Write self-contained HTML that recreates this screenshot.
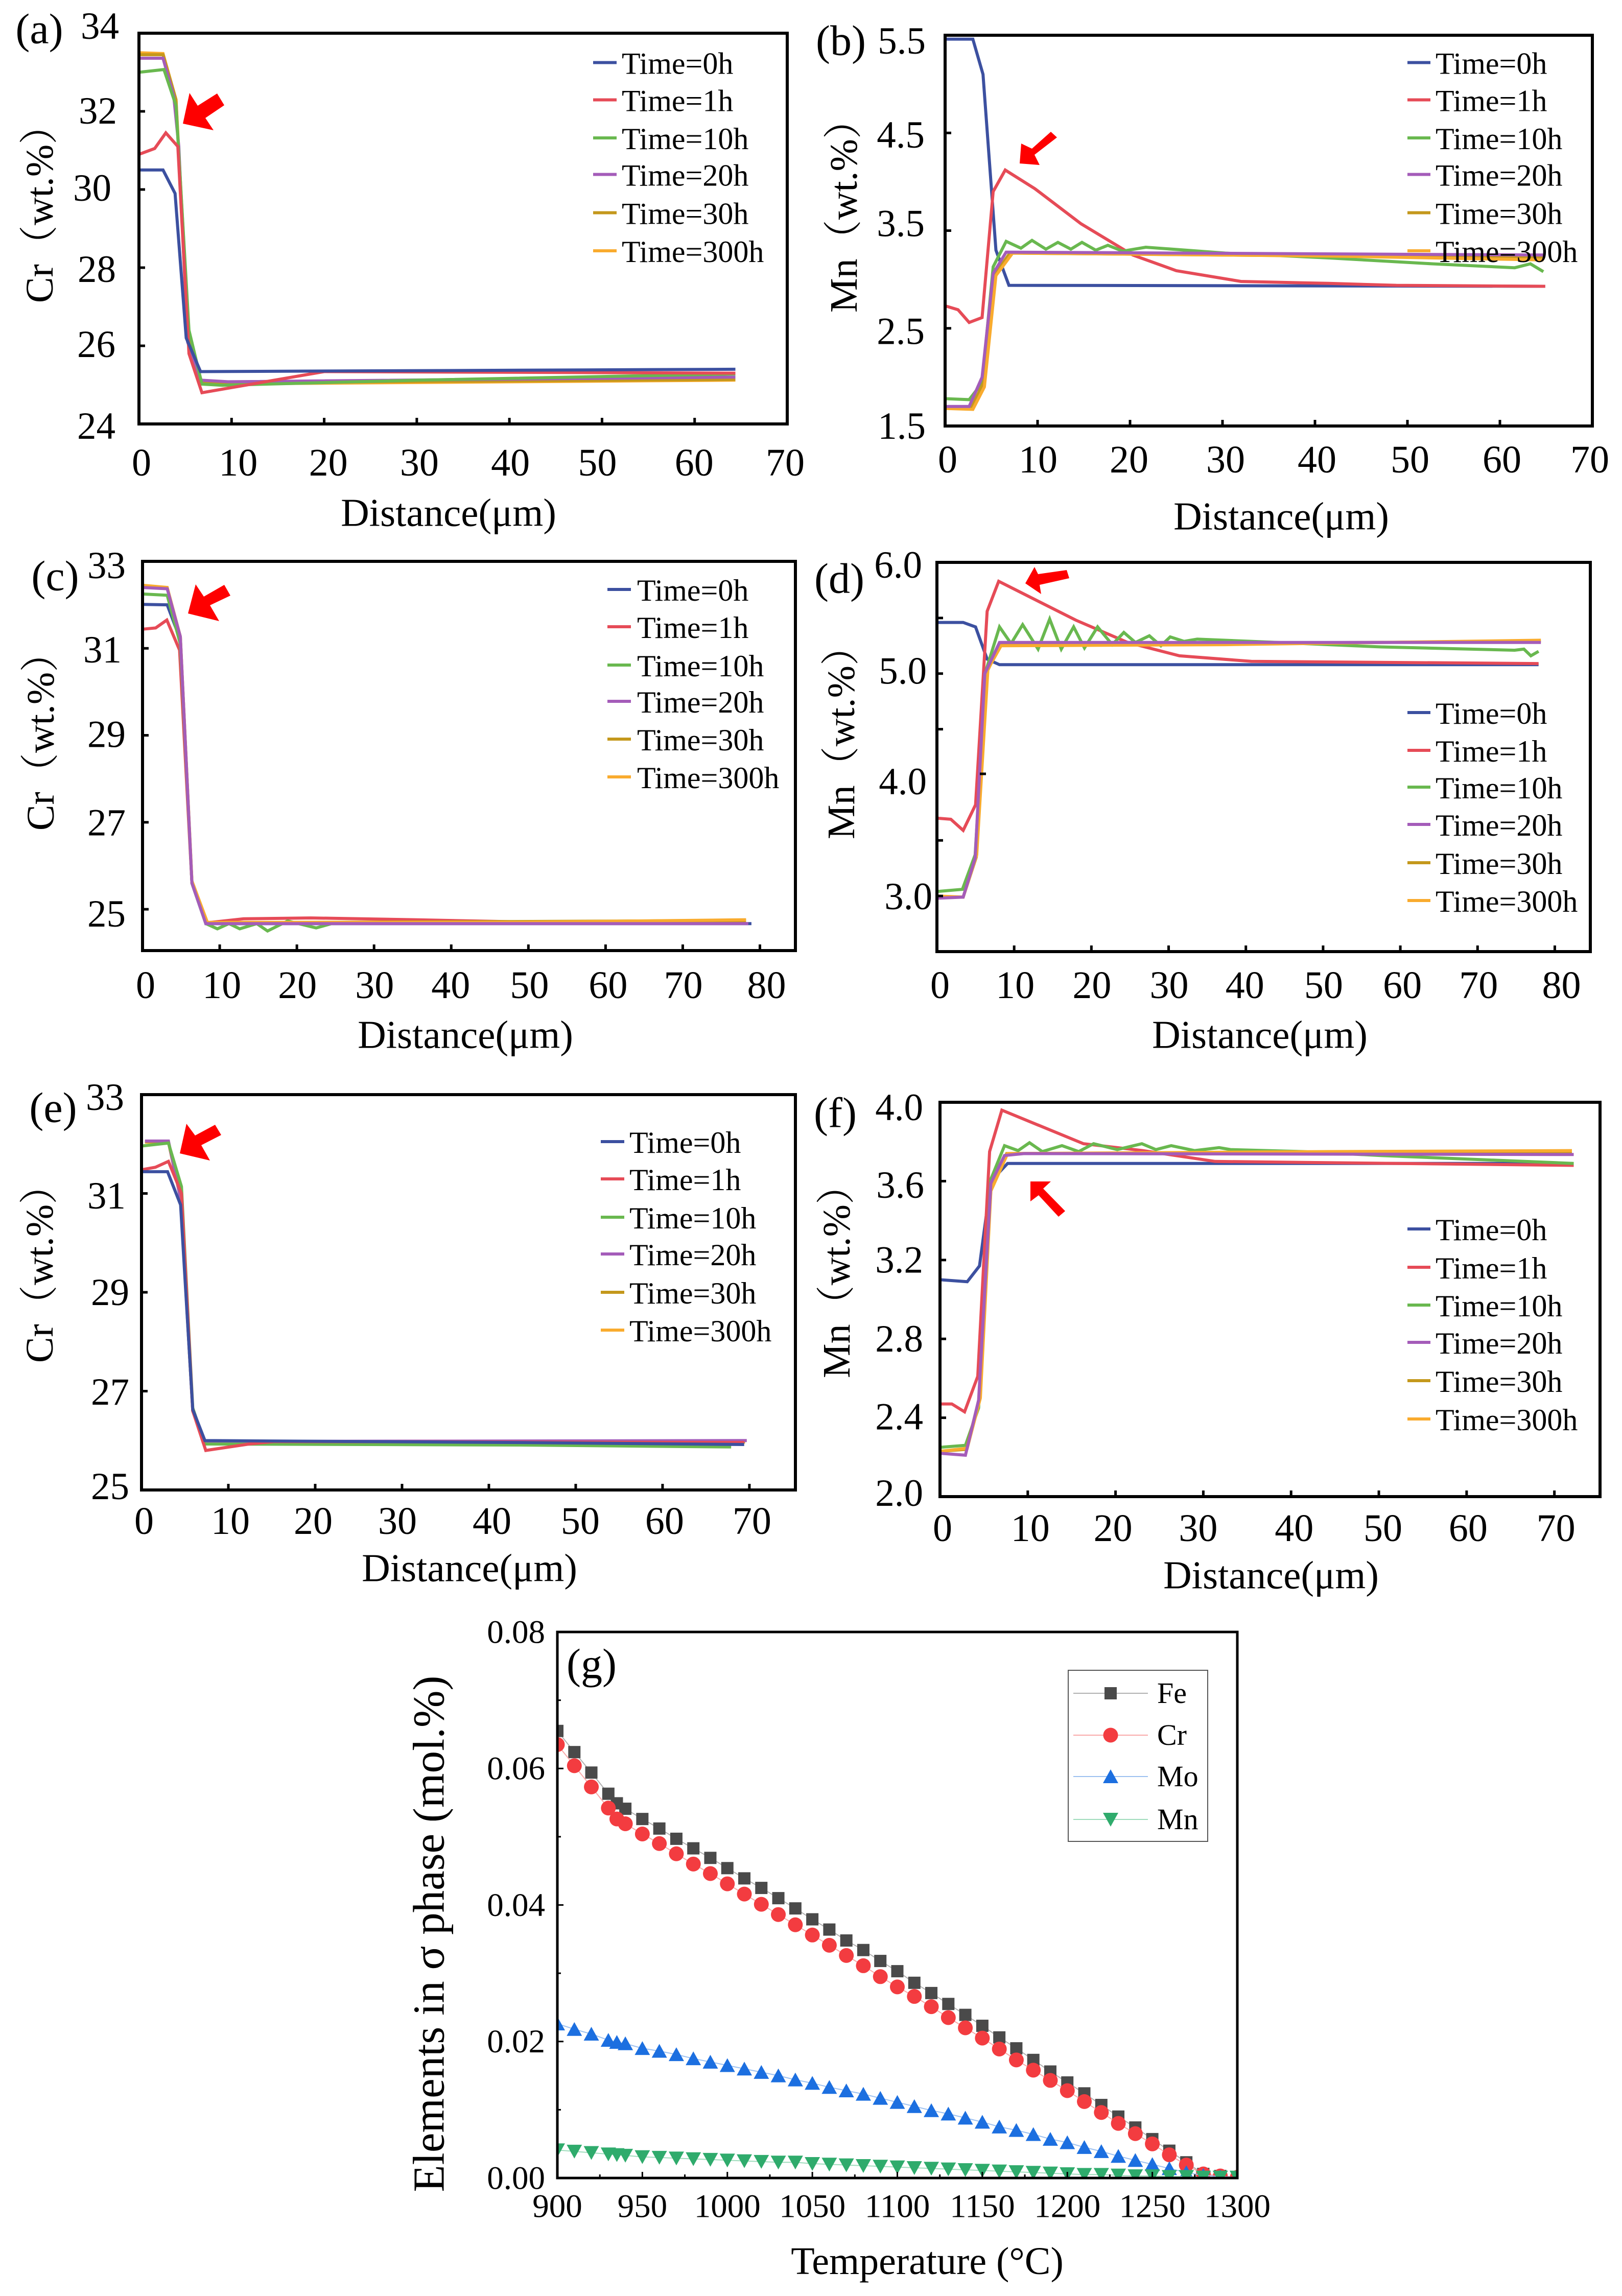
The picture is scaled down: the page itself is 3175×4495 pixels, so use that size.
<!DOCTYPE html>
<html>
<head>
<meta charset="utf-8">
<title>Cr and Mn diffusion profiles and sigma phase elements</title>
<style>
html,body{margin:0;padding:0;background:#fff;}
#figure{display:block;}
text{font-family:"Liberation Serif","Noto Serif CJK SC",serif;fill:#000;}
</style>
</head>
<body>
<svg id="figure" xmlns="http://www.w3.org/2000/svg" width="3175" height="4495" viewBox="0 0 3175 4495"></svg>
<script>
// ---------- shared labels ----------
const seriesNames = ['Time=0h','Time=1h','Time=10h','Time=20h','Time=30h','Time=300h'];
const ticks0to70 = [0,10,20,30,40,50,60,70];
const ticks0to80 = [0,10,20,30,40,50,60,70,80];

// ---------- panel (a) Cr ----------
const aT0x = [0,2.6,3.9,5.1,6.65,64.4];
const aT0y = [30.5,30.5,29.9,26.2,25.34,25.4];
const aT1x = [0,1.7,2.9,4.2,5.4,6.8,20,64.4];
const aT1y = [30.9,31.05,31.45,31.1,25.8,24.8,25.34,25.3];
const aT10x = [0,2.7,4,5.4,6.8,9,30,64.4];
const aT10y = [33,33.07,32.15,26.4,25.02,24.99,25.12,25.28];
const aT20x = [0,2.6,3.75,4.3,5.25,6.65,9.6,64.4];
const aT20y = [33.36,33.36,32.4,31.1,26.1,25.12,25.08,25.2];
const aT30x = [0,2.6,4,5.3,6.8,64.4];
const aT30y = [33.45,33.45,32.3,26.2,25.05,25.14];
const aT300x = [0,2.6,4,5.4,6.8,64.4];
const aT300y = [33.5,33.48,32.3,26.2,25.02,25.12];
const aYTicks = [24,26,28,30,32,34];
const aYLabels = ['24','26','28','30','32','34'];

// ---------- panel (b) Mn ----------
const bT0x = [0,3,4.1,5.5,6.9,64.9];
const bT0y = [5.46,5.46,5.1,3.3,2.94,2.93];
const bT1x = [0,1.4,2.6,4,5.2,6.5,9.7,14.7,20.3,25,32,41.5,48.8,64.9];
const bT1y = [2.73,2.69,2.56,2.61,3.9,4.12,3.93,3.57,3.25,3.09,2.98,2.96,2.94,2.93];
const bT10x = [0,2.6,4,5.2,6.6,8.2,9.4,10.9,12.2,13.6,14.8,16.3,17.6,19.2,21.7,30.3,41.5,52.7,61.6,63.3,64.7];
const bT10y = [1.78,1.77,1.94,3.13,3.39,3.32,3.4,3.31,3.38,3.31,3.38,3.3,3.35,3.29,3.33,3.27,3.22,3.16,3.12,3.16,3.08];
const bT20x = [0,2.6,4,5.2,6.6,64.7];
const bT20y = [1.7,1.7,2,3.06,3.28,3.25];
const bT30x = [0,2.8,4.2,5.4,7,64.7];
const bT30y = [1.69,1.68,1.95,3.05,3.27,3.22];
const bT300x = [0,3,4.25,5.5,7.3,41.5,64.7];
const bT300y = [1.68,1.67,1.9,3.04,3.27,3.24,3.2];
const bYTicks = [1.5,2.5,3.5,4.5,5.5];
const bYLabels = ['1.5','2.5','3.5','4.5','5.5'];

// ---------- panel (c) Cr ----------
const cT0x = [0,3.2,4.9,6.4,8.2,78.9];
const cT0y = [32.01,32,31.2,25.6,24.67,24.67];
const cT1x = [0,1.7,3.15,4.8,6.4,8.4,13.1,21.8,35.2,48.7,78.2];
const cT1y = [31.44,31.47,31.65,30.96,25.6,24.69,24.78,24.8,24.76,24.71,24.68];
const cT10x = [0,3.2,4.9,6.4,8.2,9.7,11.2,12.6,14.8,16.2,18.8,22.5,24.5,78.2];
const cT10y = [32.25,32.22,31.1,25.6,24.67,24.55,24.67,24.55,24.67,24.5,24.73,24.57,24.67,24.75];
const cT20x = [0,3.2,4.9,6.4,8.2,78.5];
const cT20y = [32.4,32.37,31.27,25.6,24.67,24.67];
const cT30x = [0,3.2,4.9,6.4,8.3,78.2];
const cT30y = [32.43,32.39,31.27,25.62,24.69,24.74];
const cT300x = [0,3.2,4.9,6.4,8.4,48.7,78.2];
const cT300y = [32.45,32.4,31.27,25.65,24.7,24.7,24.76];
const cYTicks = [25,27,29,31,33];
const cYLabels = ['25','27','29','31','33'];

// ---------- panel (d) Mn ----------
const dT0x = [0,3.4,5,6.5,8.1,77.9];
const dT0y = [5.46,5.46,5.42,5.13,5.08,5.08];
const dT1x = [0,1.8,3.4,5,6.5,8,18,24.7,31.4,40.7,77.9];
const dT1y = [3.7,3.69,3.59,3.82,5.56,5.83,5.48,5.28,5.16,5.11,5.09];
const dT10x = [0,3.3,4.95,6.4,8.1,9.6,11.1,13.1,14.6,16.1,17.7,19.1,20.8,22.7,24.2,25.7,27.5,29,30.2,32,33.7,44.1,57.5,74.8,76,76.9,77.9];
const dT10y = [3.04,3.06,3.37,5.04,5.42,5.27,5.44,5.22,5.49,5.22,5.42,5.23,5.42,5.26,5.37,5.28,5.34,5.25,5.33,5.29,5.31,5.28,5.24,5.21,5.22,5.16,5.2];
const dT20x = [0,3.4,4.95,6.2,8.1,78.2];
const dT20y = [2.98,2.99,3.34,5,5.28,5.28];
const dT30x = [0,3.4,5.1,6.5,8.2,78.2];
const dT30y = [2.99,2.99,3.35,5.02,5.26,5.29];
const dT300x = [0,3.4,5.15,6.6,8.3,37.4,78.2];
const dT300y = [3,2.99,3.37,5.04,5.25,5.26,5.3];
const dYTicks = [3,3.5,4.5,5,5.5];
const dYLabelValues = [3,4,5,6];
const dYLabels = ['3.0','4.0','5.0','6.0'];

// ---------- panel (e) Cr ----------
const eT0x = [0,3,4.5,5.9,7.3,43.4,69.4];
const eT0y = [31.44,31.44,30.77,26.63,26,25.96,25.92];
const eT1x = [0,1.6,3.1,4.6,5.9,7.4,12.4,15.3,69.4];
const eT1y = [31.48,31.53,31.65,31,26.6,25.8,25.93,25.98,25.96];
const eT10x = [0,3.1,4.6,5.9,7.3,43.4,67.9];
const eT10y = [31.96,32.02,31.14,26.66,25.93,25.91,25.87];
const eT20x = [0.4,3.1,4.5,5.9,7.3,69.7];
const eT20y = [32.06,32.06,30.9,26.6,25.98,26];
const eT30x = [0.4,3.1,4.5,5.9,7.3,69.5];
const eT30y = [32.05,32.05,30.9,26.6,25.97,25.98];
const eT300x = [0.4,3.1,4.5,5.9,7.3,69.5];
const eT300y = [32.04,32.04,30.9,26.6,25.96,25.97];
const eYTicks = [25,27,29,31,33];
const eYLabels = ['25','27','29','31','33'];

// ---------- panel (f) Mn ----------
const fT0x = [0,3.1,4.5,5.8,7.7,72];
const fT0y = [3.1,3.09,3.17,3.6,3.69,3.69];
const fT1x = [0,1.35,2.8,4.3,5.65,7.05,16.35,23.1,31.35,72.2];
const fT1y = [2.47,2.47,2.43,2.61,3.75,3.96,3.79,3.755,3.7,3.68];
const fT10x = [0,2.9,4.4,5.8,7.35,8.9,10.2,11.65,13.9,15.8,17.5,20.2,23,24.6,26.35,29,31.8,33.1,41.35,50.2,72.2];
const fT10y = [2.25,2.26,2.45,3.61,3.78,3.755,3.795,3.75,3.78,3.75,3.79,3.76,3.79,3.76,3.78,3.755,3.77,3.76,3.75,3.73,3.69];
const fT20x = [0,2.9,4.4,5.8,7.35,9.6,72.2];
const fT20y = [2.22,2.21,2.49,3.59,3.73,3.74,3.735];
const fT30x = [0,3,4.5,5.8,7.6,72];
const fT30y = [2.23,2.24,2.5,3.56,3.74,3.75];
const fT300x = [0,3.1,4.6,5.8,7.7,44.3,72];
const fT300y = [2.23,2.245,2.5,3.55,3.74,3.75,3.755];
const fYTicks = [2,2.4,2.8,3.2,3.6,4];
const fYLabels = ['2.0','2.4','2.8','3.2','3.6','4.0'];

// ---------- panel (g) sigma phase ----------
const gTemps = [900,910,920,930,935,940,950,960,970,980,990,1000,1010,1020,1030,1040,1050,1060,1070,1080,1090,1100,1110,1120,1130,1140,1150,1160,1170,1180,1190,1200,1210,1220,1230,1240,1250,1260,1270,1280,1290,1300];
const gFe = [.0655,.0624,.0594,.0563,.0549,.0541,.0526,.0512,.0497,.0483,.0469,.0454,.0439,.0425,.041,.0395,.0379,.0364,.0348,.0334,.0318,.0303,.0286,.0271,.0255,.0239,.0223,.0206,.019,.0173,.0156,.014,.0124,.0107,.009,.0074,.0057,.004,.0023,.0006,.0003,.0001];
const gCr = [.0635,.0604,.0573,.0542,.0526,.0519,.0504,.049,.0475,.046,.0446,.0431,.0416,.0401,.0386,.0371,.0356,.0341,.0326,.0311,.0295,.028,.0266,.0251,.0235,.022,.0205,.0189,.0173,.0158,.0143,.0128,.0112,.0096,.008,.0065,.005,.0034,.0019,.0006,.0003,.0001];
const gMo = [.0226,.0218,.0211,.0202,.0199,.0197,.019,.0186,.0181,.0175,.017,.0165,.016,.0155,.015,.0144,.0139,.0133,.0128,.0123,.0117,.0111,.0105,.0099,.0094,.0088,.0082,.0075,.007,.0064,.0057,.0052,.0045,.0039,.0032,.0026,.002,.0014,.0008,.0004,.0002,.0001];
const gMn = [.0041,.0039,.0037,.0035,.0034,.0033,.0031,.003,.0029,.0028,.0027,.0026,.0025,.0024,.0023,.0023,.0021,.002,.0019,.0018,.0017,.0016,.0015,.0014,.0013,.0012,.0011,.001,.0009,.0008,.0007,.0006,.0005,.0005,.0004,.0003,.0003,.0002,.0002,.0001,.0001,.0001];
const gXMajor = [900,950,1000,1050,1100,1150,1200,1250,1300];
const gXMinor = [925,975,1025,1075,1125,1175,1225,1275];
const gYMajor = [0,.02,.04,.06,.08];
const gYMinor = [.01,.03,.05,.07];
const gXLabels = ['900','950','1000','1050','1100','1150','1200','1250','1300'];
const gYLabels = ['0.00','0.02','0.04','0.06','0.08'];
const gNames = ['Fe','Cr','Mo','Mn'];

// ---------- styling & layout (not data) ----------
const seriesColors = ['#3c50a0','#e64b57','#69b84f','#a45cb9','#c4981c','#f9ab2e'];
const NS = 'http://www.w3.org/2000/svg';
const svg = document.getElementById('figure');

function mk(tag, attrs, parent){
  const e = document.createElementNS(NS, tag);
  for(const k in attrs) e.setAttribute(k, attrs[k]);
  (parent || svg).appendChild(e);
  return e;
}
function txt(str, x, cy, size, anchor, parent){
  const t = mk('text', {x:x, y:cy + 0.33*size, 'font-size':size, 'text-anchor':anchor}, parent);
  t.textContent = str;
  return t;
}
function vtxt(str, cx, cy, size, parent){
  const bx = cx + 0.33*size;
  const t = mk('text', {x:bx, y:cy, 'font-size':size, 'text-anchor':'middle', transform:'rotate(-90 '+bx+' '+cy+')'}, parent);
  t.textContent = str;
  return t;
}
function scale(d0,d1,r0,r1){ return v => r0 + (v-d0)*(r1-r0)/(d1-d0); }

const panels = [
 {id:'a', box:[272,65,1541,830], xDom:[0,70], yDom:[24,34], xTicks:ticks0to70, yTicks:aYTicks, yLabelVals:aYTicks, yLabels:aYLabels,
  series:[[aT0x,aT0y],[aT1x,aT1y],[aT10x,aT10y],[aT20x,aT20y],[aT30x,aT30y],[aT300x,aT300y]], order:[5,4,3,2,1,0],
  xNudge:[5,13,8,5,2,-9,-1,-4], xLabelY:906, yNudge:[4,-3,3,-3,-1,-14], yGap:[46,46,45,54,43,39],
  letter:['(a)',77,57], xTitle:[878,1004], yTitle:['Cr（wt.%）',78,400],
  legend:[1161,1207,1217,[122.5,195.5,270,341.5,416.5,491]],
  arrow:'358,242 371,182 387,207 425,183 439,206 402,231 418,255'},
 {id:'b', box:[1850,69,3117,834], xDom:[0,70], yDom:[1.5,5.5], xTicks:ticks0to70, yTicks:bYTicks, yLabelVals:bYTicks, yLabels:bYLabels,
  series:[[bT0x,bT0y],[bT1x,bT1y],[bT10x,bT10y],[bT20x,bT20y],[bT30x,bT30y],[bT300x,bT300y]], order:[0,1,2,4,5,3],
  xNudge:[5,1,-2,6,4,5,4,-5], xLabelY:900, yNudge:[0,6,-14,4,11], yGap:[38,40,40,40,38],
  letter:['(b)',1646,80], xTitle:[2508,1011], yTitle:['Mn（wt.%）',1652,404],
  legend:[2755,2800,2810,[122.5,195.5,270,341.5,416.5,491]],
  arrow:'1996,320 1999,281 2020,291 2057,258 2069,269 2025,303 2035,323'},
 {id:'c', box:[279,1099,1557,1861], xDom:[0,84.6], yDom:[24.05,33], xTicks:ticks0to80, yTicks:cYTicks, yLabelVals:cYTicks, yLabels:cYLabels,
  series:[[cT0x,cT0y],[cT1x,cT1y],[cT10x,cT10y],[cT20x,cT20y],[cT30x,cT30y],[cT300x,cT300y]], order:[0,1,2,4,5,3],
  xNudge:[6,4,1,1,-1,2,5,1,13], xLabelY:1929, yNudge:[9,1,-2,3,8], yGap:[33,33,33,41,33],
  letter:['(c)',108,1128], xTitle:[911,2026], yTitle:['Cr（wt.%）',80,1433],
  legend:[1189,1235,1247,[1154,1227,1302,1373,1447,1521]],
  arrow:'368,1201 383,1144 399,1168 439,1145 451,1166 411,1185 429,1216'},
 {id:'d', box:[1834,1101,3113,1863], xDom:[0,84.6], yDom:[2.5,6], xTicks:ticks0to80, yTicks:dYTicks, yLabelVals:dYLabelValues, yLabels:dYLabels,
  series:[[dT0x,dT0y],[dT1x,dT1y],[dT10x,dT10y],[dT20x,dT20y],[dT30x,dT30y],[dT300x,dT300y]], order:[0,1,2,4,5,3],
  xNudge:[6,2,1,1,-2,1,4,2,13], xLabelY:1929, yNudge:[1,-6,-5,5], yGap:[9,20,20,29],
  letter:['(d)',1643,1133], xTitle:[2466,2026], yTitle:['Mn（wt.%）',1647,1435],
  legend:[2755,2800,2810,[1395,1469,1541,1614,1689,1763]],
  arrow:'2007,1142 2025,1110 2032,1124 2088,1116 2093,1132 2035,1145 2038,1163', strayTick:[1924,1515]},
 {id:'e', box:[277,2143,1557,2917], xDom:[0,75.3], yDom:[25,33], xTicks:ticks0to70, yTicks:eYTicks, yLabelVals:eYTicks, yLabels:eYLabels,
  series:[[eT0x,eT0y],[eT1x,eT1y],[eT10x,eT10y],[eT20x,eT20y],[eT30x,eT30y],[eT300x,eT300y]], order:[5,4,3,2,1,0],
  xNudge:[5,4,-4,-9,6,9,4,5], xLabelY:2978, yNudge:[-7,1.5,0,4.5,5], yGap:[24,24,24,31,34],
  letter:['(e)',104,2169], xTitle:[919,3070], yTitle:['Cr（wt.%）',78,2475],
  legend:[1176,1222,1232,[2235,2308,2383,2455,2530,2604]],
  arrow:'352,2258 365,2200 382,2223 421,2202 433,2222 394,2242 411,2272'},
 {id:'f', box:[1840,2158,3132,2930], xDom:[0,75.2], yDom:[2,4], xTicks:ticks0to70, yTicks:fYTicks, yLabelVals:fYTicks, yLabels:fYLabels,
  series:[[fT0x,fT0y],[fT1x,fT1y],[fT10x,fT10y],[fT20x,fT20y],[fT30x,fT30y],[fT300x,fT300y]], order:[0,1,2,4,5,3],
  xNudge:[5,5,-5,-10,6,8,3,3], xLabelY:2992, yNudge:[-7,-2,0,0,8,10], yGap:[33,33,33,33,31,33],
  letter:['(f)',1635,2179], xTitle:[2488,3084], yTitle:['Mn（wt.%）',1638,2490],
  legend:[2755,2800,2810,[2406,2481,2555,2628,2703,2778]],
  arrow:'2017,2313 2057,2313 2042,2327 2085,2371 2072,2382 2033,2340 2017,2352'}
];

panels.forEach(p => {
  const [L,T,R,B] = p.box;
  const X = scale(p.xDom[0],p.xDom[1],L,R);
  const Y = scale(p.yDom[0],p.yDom[1],B,T);
  const g = mk('g', {});
  
  

  p.order.forEach(i => {
    const pts = p.series[i][0].map((xv,j) => X(xv).toFixed(1)+','+Y(p.series[i][1][j]).toFixed(1)).join(' ');
    const line = mk('polyline', {points:pts, fill:'none', stroke:seriesColors[i], 'stroke-width':6, 'stroke-linejoin':'miter'}, g);
    
    
  });

  const frame = mk('rect', {x:L, y:T, width:R-L, height:B-T, fill:'none', stroke:'#000', 'stroke-width':6}, g);
  
  

  p.xTicks.forEach((t,i) => {
    const x = X(t);
    if(t !== 0){
      const tick = mk('line', {x1:x, x2:x, y1:B, y2:B-12, stroke:'#000', 'stroke-width':5}, g);
      
      
    }
    const lab = txt(String(t), x + p.xNudge[i], p.xLabelY, 76, 'middle', g);
    
    
  });
  p.yTicks.forEach(t => {
    const y = Y(t);
    const tick = mk('line', {x1:L, x2:L+12, y1:y, y2:y, stroke:'#000', 'stroke-width':5}, g);
    
    
  });
  p.yLabelVals.forEach((t,i) => {
    const lab = txt(p.yLabels[i], L - p.yGap[i], Y(t) + p.yNudge[i], 75, 'end', g);
    
    
  });
  if(p.strayTick){
    const st = mk('line', {x1:p.strayTick[0]-6, x2:p.strayTick[0]+6, y1:p.strayTick[1], y2:p.strayTick[1], stroke:'#000', 'stroke-width':5}, g);
    
    
  }

  const letter = txt(p.letter[0], p.letter[1], p.letter[2], 84, 'middle', g);
  
  
  const xt = txt('Distance(μm)', p.xTitle[0], p.xTitle[1], 77, 'middle', g);
  
  
  const yt = vtxt(p.yTitle[0], p.yTitle[1], p.yTitle[2], 76, g);
  
  

  const lg = mk('g', {}, g);
  
  
  seriesNames.forEach((n,i) => {
    const ly = p.legend[3][i];
    const sw = mk('line', {x1:p.legend[0], x2:p.legend[1], y1:ly, y2:ly, stroke:seriesColors[i], 'stroke-width':6}, lg);
    
    
    const lt = txt(n, p.legend[2], ly + 2, 60, 'start', lg);
    
    
  });

  const arrow = mk('polygon', {points:p.arrow, fill:'#fe0000'}, g);
  
  
});

// ---------- panel (g) ----------
(function(){
  const L=1091, T=3195, R=2422, B=4264;
  const X = scale(900,1300,L,R);
  const Y = scale(0,0.08,B,T);
  const g = mk('g', {});
  
  

  const defs = mk('defs', {}, g);
  const clip = mk('clipPath', {id:'g-clip'}, defs);
  mk('rect', {x:L, y:T, width:R-L, height:B-T}, clip);

  const gSeries = [gFe,gCr,gMo,gMn];
  const gColors = ['#4a4a4a','#f33c40','#1c6fe0','#2fab6c'];
  const gLineColors = ['#b0b0b0','#f9a9a9','#9cc0f0','#9fdcbc'];
  const plot = mk('g', {'clip-path':'url(#g-clip)'}, g);

  function marker(kind, x, y, color, parent){
    if(kind === 0) return mk('rect', {x:x-12, y:y-12, width:24, height:24, fill:color}, parent);
    if(kind === 1) return mk('circle', {cx:x, cy:y, r:14.5, fill:color}, parent);
    if(kind === 2) return mk('polygon', {points:(x-15)+','+(y+13)+' '+(x+15)+','+(y+13)+' '+x+','+(y-14), fill:color}, parent);
    return mk('polygon', {points:(x-15)+','+(y-13)+' '+(x+15)+','+(y-13)+' '+x+','+(y+14), fill:color}, parent);
  }

  gSeries.forEach((vals,k) => {
    const pts = gTemps.map((t,j) => X(t).toFixed(1)+','+Y(vals[j]).toFixed(1)).join(' ');
    const line = mk('polyline', {points:pts, fill:'none', stroke:gLineColors[k], 'stroke-width':2}, plot);
    
    
    gTemps.forEach((t,j) => {
      const m = marker(k, X(t), Y(vals[j]), gColors[k], plot);
      
      
    });
  });

  const frame = mk('rect', {x:L, y:T, width:R-L, height:B-T, fill:'none', stroke:'#000', 'stroke-width':5}, g);
  
  

  gXMajor.forEach((t,i) => {
    const tk = mk('line', {x1:X(t), x2:X(t), y1:B, y2:B-12, stroke:'#000', 'stroke-width':3}, g);
    
    
    const lab = txt(gXLabels[i], X(t), 4319, 65, 'middle', g);
    
    
  });
  gXMinor.forEach(t => {
    const tk = mk('line', {x1:X(t), x2:X(t), y1:B, y2:B-7, stroke:'#000', 'stroke-width':3}, g);
    
    
  });
  gYMajor.forEach((t,i) => {
    const tk = mk('line', {x1:L, x2:L+12, y1:Y(t), y2:Y(t), stroke:'#000', 'stroke-width':3}, g);
    
    
    const lab = txt(gYLabels[i], L-24, Y(t), 65, 'end', g);
    
    
  });
  gYMinor.forEach(t => {
    const tk = mk('line', {x1:L, x2:L+7, y1:Y(t), y2:Y(t), stroke:'#000', 'stroke-width':3}, g);
    
    
  });

  const letter = txt('(g)', 1158, 3258, 84, 'middle', g);
  
  
  const xt = txt('Temperature (°C)', 1815, 4427, 76, 'middle', g);
  
  
  const yt = vtxt('Elements in σ phase (mol.%)', 840, 3786, 87, g);
  
  

  const lg = mk('g', {}, g);
  
  
  const box = mk('rect', {x:2091, y:3270, width:273, height:335, fill:'#fff', stroke:'#555', 'stroke-width':2}, lg);
  
  
  const legendRows = [3315,3397,3478,3562];
  gNames.forEach((n,k) => {
    const ly = legendRows[k];
    const sw = mk('line', {x1:2101, x2:2247, y1:ly, y2:ly, stroke:gLineColors[k], 'stroke-width':2}, lg);
    
    
    const m = marker(k, 2174, ly, gColors[k], lg);
    
    
    const t = txt(n, 2265, ly, 58, 'start', lg);
    
    
  });
})();
</script>
</body>
</html>
